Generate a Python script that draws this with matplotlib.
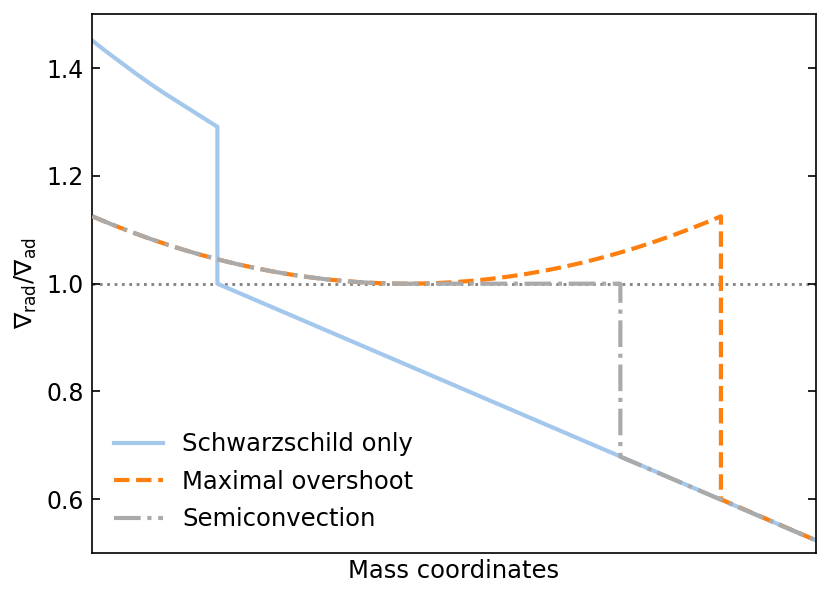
import matplotlib
matplotlib.use("Agg")
import matplotlib.pyplot as plt

# Schwarzschild only: curved part, jump, then linear decline
x_schw = [0.0, 0.02, 0.04, 0.06, 0.08, 0.10, 0.12, 0.14, 0.16, 0.173, 0.173, 1.0]
y_schw = [1.451, 1.430, 1.410, 1.390, 1.371, 1.353, 1.336, 1.319, 1.302, 1.291, 1.0, 0.524]

# maximal overshoot
x_over = [0.0, 0.025, 0.05, 0.075, 0.1, 0.125, 0.15, 0.175, 0.2, 0.225, 0.25, 0.275,
          0.3, 0.325, 0.35, 0.375, 0.4, 0.425, 0.45, 0.475, 0.5, 0.525, 0.55, 0.575,
          0.6, 0.625, 0.65, 0.675, 0.7, 0.725, 0.75, 0.775, 0.8, 0.825, 0.85, 0.869,
          0.869, 1.0]
y_over = [1.1250, 1.1110, 1.0979, 1.0856, 1.0741, 1.0634, 1.0536, 1.0446, 1.0364, 1.0291,
          1.0225, 1.0168, 1.0120, 1.0079, 1.0047, 1.0023, 1.0008, 1.0001, 1.0002, 1.0011,
          1.0028, 1.0054, 1.0088, 1.0131, 1.0181, 1.0240, 1.0307, 1.0383, 1.0467, 1.0559,
          1.0659, 1.0768, 1.0885, 1.1010, 1.1143, 1.1250, 0.600, 0.524]

# semiconvection
x_semi = [0.0, 0.025, 0.05, 0.075, 0.1, 0.125, 0.15, 0.175, 0.2, 0.225, 0.25, 0.275,
          0.3, 0.325, 0.35, 0.375, 0.4, 0.425, 0.730, 0.730, 1.0]
y_semi = [1.1250, 1.1110, 1.0979, 1.0856, 1.0741, 1.0634, 1.0536, 1.0446, 1.0364, 1.0291,
          1.0225, 1.0168, 1.0120, 1.0079, 1.0047, 1.0023, 1.0008, 1.0, 1.0, 0.679, 0.524]

fig = plt.figure(figsize=(8.31, 6.0), dpi=100)
ax = fig.add_axes([0.111, 0.078, 0.8706, 0.8984])

ax.axhline(1.0, color='#808080', ls=':', lw=2, zorder=1)
ax.plot(x_schw, y_schw, color='#a4c8ec', lw=3, label='Schwarzschild only', zorder=2)
ax.plot(x_over, y_over, color='#ff7f0e', lw=3, ls='--', label='Maximal overshoot', zorder=3)
ax.plot(x_semi, y_semi, color='#aaaaaa', lw=3, ls='-.', label='Semiconvection', zorder=4)

ax.set_xlim(0, 1)
ax.set_ylim(0.5, 1.5)
ax.set_xticks([])
ax.set_yticks([0.6, 0.8, 1.0, 1.2, 1.4])
ax.tick_params(axis='y', direction='in', right=True, labelsize=17, length=6, width=1.2, pad=6)
for s in ax.spines.values():
    s.set_linewidth(1.2)

ax.set_xlabel('Mass coordinates', fontsize=17.5)
ax.set_ylabel(r'$\nabla_{\rm rad}/\nabla_{\rm ad}$', fontsize=17.5, labelpad=5)
ax.legend(loc='lower left', frameon=False, fontsize=17.5, labelspacing=0.56,
          bbox_to_anchor=(0.0, 0.0))

fig.savefig('out.png', dpi=100)
